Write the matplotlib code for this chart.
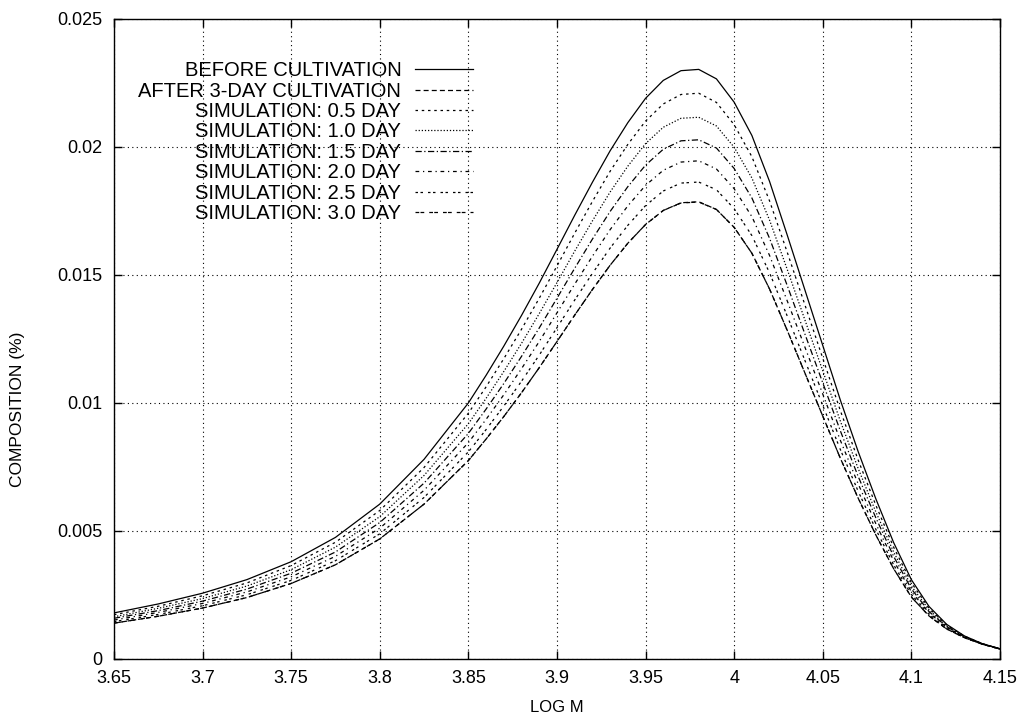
import matplotlib
matplotlib.use("Agg")
import matplotlib.pyplot as plt

plt.rcParams['font.family'] = ['Liberation Sans', 'DejaVu Sans']

# log M sample points
log_m = [3.65, 3.675, 3.70, 3.725, 3.75, 3.775, 3.80, 3.825,
         3.85, 3.86, 3.87, 3.88, 3.89, 3.90, 3.91, 3.92, 3.93, 3.94,
         3.95, 3.96, 3.97, 3.98, 3.99, 4.00, 4.01, 4.02, 4.03, 4.04,
         4.05, 4.06, 4.07, 4.08, 4.09, 4.10, 4.11, 4.12, 4.13, 4.14, 4.15]

before = [0.00180, 0.00215, 0.00257, 0.00310, 0.00380, 0.00475, 0.00605, 0.00780,
          0.01000, 0.01108, 0.01222, 0.01342, 0.01468, 0.01600, 0.01733, 0.01862, 0.01985, 0.02095,
          0.02190, 0.02260, 0.02298, 0.02303, 0.02266, 0.02175, 0.02045, 0.01865, 0.01655, 0.01440,
          0.01225, 0.01010, 0.00810, 0.00625, 0.00455, 0.00310, 0.00205, 0.00135, 0.00090, 0.00060, 0.00040]
after_3day = [0.00140, 0.00167, 0.00199, 0.00240, 0.00295, 0.00368, 0.00469, 0.00605,
              0.00775, 0.00859, 0.00947, 0.01040, 0.01138, 0.01240, 0.01343, 0.01443, 0.01538, 0.01624,
              0.01697, 0.01752, 0.01782, 0.01786, 0.01756, 0.01686, 0.01585, 0.01445, 0.01283, 0.01116,
              0.00949, 0.00783, 0.00628, 0.00484, 0.00353, 0.00242, 0.00168, 0.00117, 0.00083, 0.00058, 0.00039]
sim_05 = [0.00173, 0.00206, 0.00247, 0.00297, 0.00365, 0.00456, 0.00580, 0.00748,
          0.00960, 0.01063, 0.01173, 0.01288, 0.01409, 0.01535, 0.01663, 0.01787, 0.01905, 0.02010,
          0.02101, 0.02168, 0.02205, 0.02210, 0.02174, 0.02087, 0.01962, 0.01789, 0.01588, 0.01382,
          0.01175, 0.00969, 0.00777, 0.00600, 0.00437, 0.00298, 0.00198, 0.00132, 0.00089, 0.00060, 0.00040]
sim_10 = [0.00165, 0.00198, 0.00236, 0.00285, 0.00349, 0.00437, 0.00556, 0.00717,
          0.00919, 0.01018, 0.01123, 0.01233, 0.01349, 0.01470, 0.01593, 0.01711, 0.01824, 0.01925,
          0.02013, 0.02077, 0.02112, 0.02116, 0.02082, 0.01999, 0.01879, 0.01714, 0.01521, 0.01323,
          0.01126, 0.00928, 0.00744, 0.00574, 0.00418, 0.00285, 0.00192, 0.00129, 0.00087, 0.00059, 0.00040]
sim_15 = [0.00159, 0.00189, 0.00226, 0.00273, 0.00335, 0.00418, 0.00533, 0.00687,
          0.00881, 0.00976, 0.01076, 0.01182, 0.01293, 0.01409, 0.01526, 0.01640, 0.01748, 0.01845,
          0.01929, 0.01991, 0.02024, 0.02028, 0.01996, 0.01916, 0.01801, 0.01643, 0.01458, 0.01268,
          0.01079, 0.00890, 0.00713, 0.00551, 0.00401, 0.00274, 0.00185, 0.00126, 0.00086, 0.00059, 0.00040]
sim_20 = [0.00152, 0.00182, 0.00217, 0.00262, 0.00321, 0.00401, 0.00511, 0.00659,
          0.00845, 0.00936, 0.01032, 0.01134, 0.01240, 0.01352, 0.01464, 0.01573, 0.01677, 0.01770,
          0.01850, 0.01909, 0.01941, 0.01946, 0.01914, 0.01837, 0.01728, 0.01576, 0.01398, 0.01217,
          0.01035, 0.00853, 0.00684, 0.00528, 0.00384, 0.00263, 0.00180, 0.00123, 0.00085, 0.00058, 0.00039]
sim_25 = [0.00146, 0.00174, 0.00208, 0.00251, 0.00307, 0.00384, 0.00489, 0.00631,
          0.00809, 0.00896, 0.00988, 0.01085, 0.01187, 0.01294, 0.01402, 0.01506, 0.01605, 0.01694,
          0.01771, 0.01828, 0.01859, 0.01863, 0.01833, 0.01759, 0.01654, 0.01508, 0.01339, 0.01165,
          0.00991, 0.00817, 0.00655, 0.00506, 0.00368, 0.00252, 0.00174, 0.00120, 0.00084, 0.00058, 0.00039]
sim_30 = [0.00140, 0.00167, 0.00199, 0.00240, 0.00295, 0.00368, 0.00469, 0.00605,
          0.00775, 0.00859, 0.00947, 0.01040, 0.01138, 0.01240, 0.01343, 0.01443, 0.01538, 0.01624,
          0.01697, 0.01752, 0.01781, 0.01785, 0.01756, 0.01686, 0.01585, 0.01445, 0.01283, 0.01116,
          0.00949, 0.00783, 0.00628, 0.00484, 0.00353, 0.00242, 0.00168, 0.00117, 0.00083, 0.00058, 0.00039]

series = [
    ("BEFORE CULTIVATION", before, "-"),
    ("AFTER 3-DAY CULTIVATION", after_3day, (0, (4, 2.5))),
    ("SIMULATION: 0.5 DAY", sim_05, (0, (2, 3))),
    ("SIMULATION: 1.0 DAY", sim_10, (0, (1, 1.5))),
    ("SIMULATION: 1.5 DAY", sim_15, (0, (5, 2, 1, 2))),
    ("SIMULATION: 2.0 DAY", sim_20, (0, (3, 3, 1, 3))),
    ("SIMULATION: 2.5 DAY", sim_25, (0, (2, 2, 2, 4))),
    ("SIMULATION: 3.0 DAY", sim_30, (0, (3, 1, 3, 4))),
]

x_ticks = [3.65, 3.7, 3.75, 3.8, 3.85, 3.9, 3.95, 4.0, 4.05, 4.1, 4.15]
y_ticks = [0, 0.005, 0.01, 0.015, 0.02, 0.025]

fig = plt.figure(figsize=(10.24, 7.21), dpi=100)
ax = fig.add_axes([0.1113, 0.086, 0.8652, 0.8877])

for label, vals, ls in series:
    ax.plot(log_m, vals, color="black", linestyle=ls, linewidth=0.9, label=label)

ax.set_xlim(3.65, 4.15)
ax.set_ylim(0, 0.025)
ax.set_xticks(x_ticks)
ax.set_xticklabels([f"{v:g}" for v in x_ticks])
ax.set_yticks(y_ticks)
ax.set_yticklabels([f"{v:g}" for v in y_ticks])
ax.tick_params(direction="in", top=True, right=True, length=6, width=1, labelsize=13, pad=8)
ax.grid(True, color="black", linestyle=(0, (1, 3)), linewidth=0.8)
for s in ax.spines.values():
    s.set_linewidth(1)

ax.set_xlabel("LOG M", fontsize=12, labelpad=9)
ax.set_ylabel("COMPOSITION (%)", fontsize=12.5)
ax.yaxis.set_label_coords(-0.100, 0.39)

leg = ax.legend(loc="upper right", bbox_to_anchor=(0.405, 0.934), frameon=False, markerfirst=False,
                fontsize=14.5, handlelength=2.85, handletextpad=0.7, labelspacing=0.07,
                borderaxespad=0, borderpad=0)

fig.savefig("out.png", dpi=100)
